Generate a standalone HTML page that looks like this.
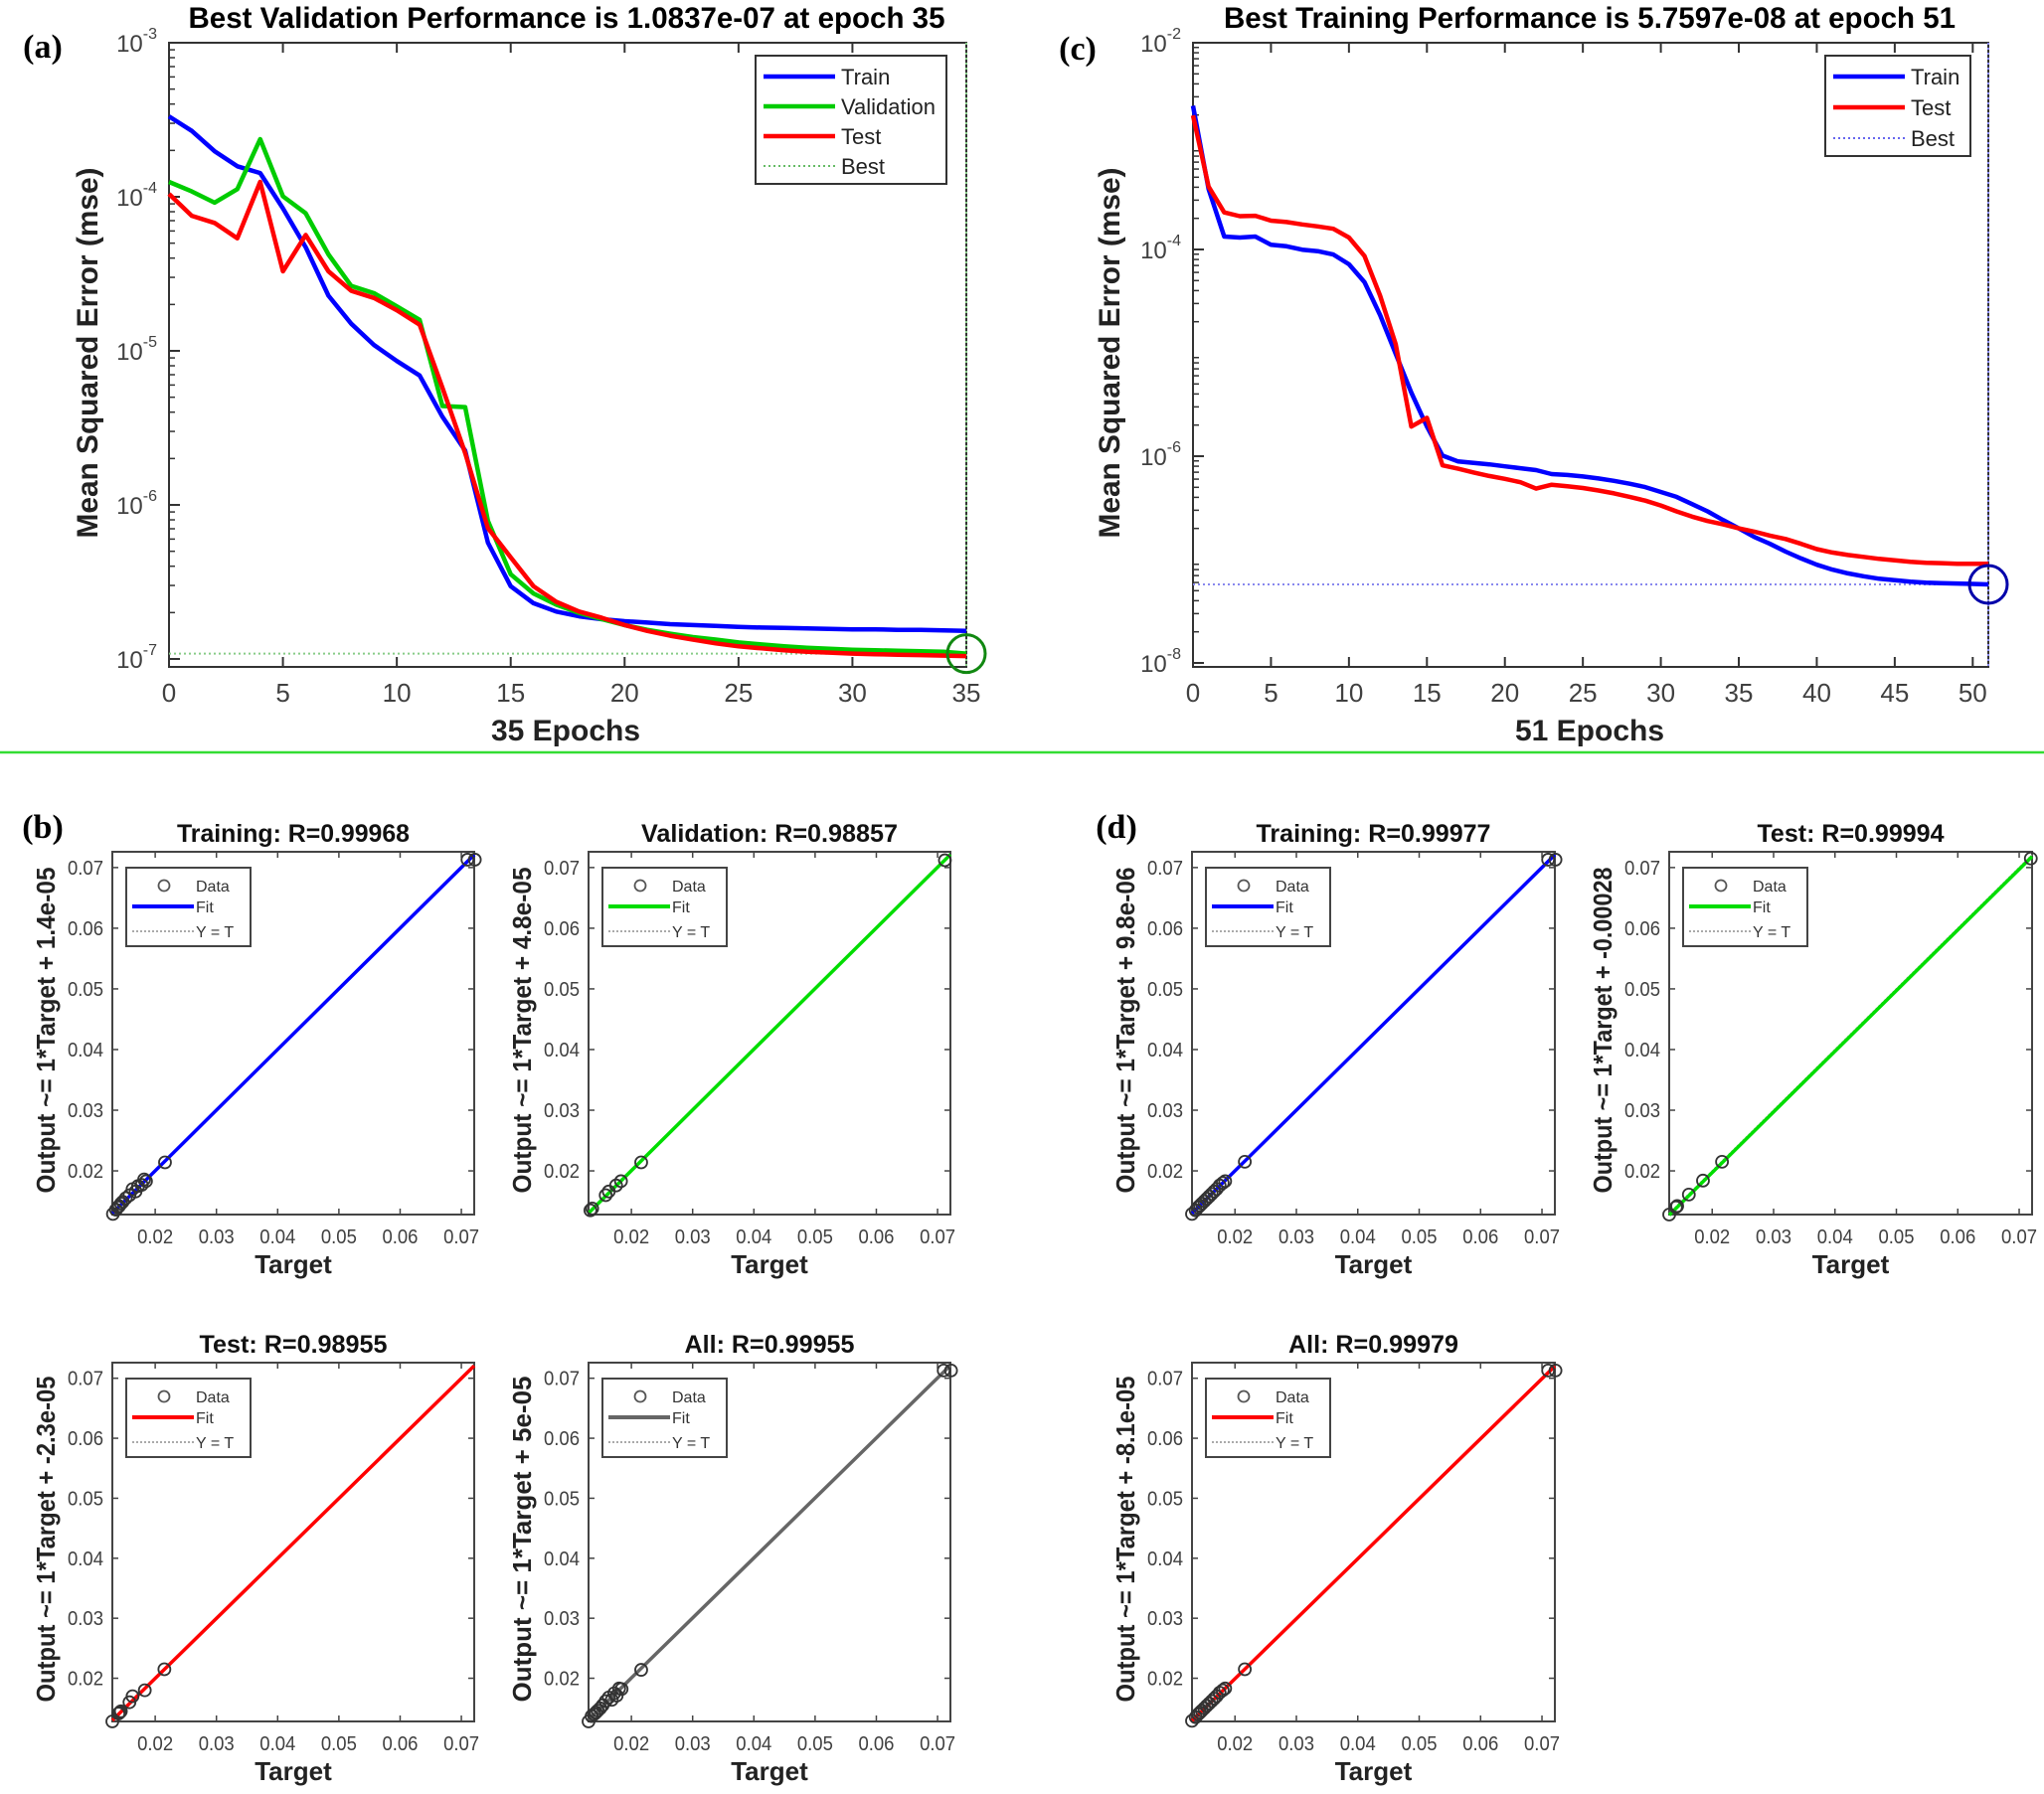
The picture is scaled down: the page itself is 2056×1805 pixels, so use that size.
<!DOCTYPE html>
<html><head><meta charset="utf-8"><style>
html,body{margin:0;padding:0;background:#fff;}
svg{display:block;font-family:"Liberation Sans",Arial,sans-serif;}
</style></head><body>
<svg id="fig" width="2056" height="1805" viewBox="0 0 2056 1805" xmlns="http://www.w3.org/2000/svg"></svg>
<script>
// ---------- Panel (a) data: log10(MSE) per epoch ----------
const aEpochs = 35;
const aTrainLog = [-3.478,-3.572,-3.704,-3.802,-3.846,-4.075,-4.327,-4.642,-4.824,-4.962,-5.066,-5.16,-5.428,-5.648,-6.245,-6.528,-6.638,-6.692,-6.723,-6.742,-6.755,-6.764,-6.774,-6.78,-6.786,-6.792,-6.796,-6.799,-6.802,-6.805,-6.808,-6.808,-6.811,-6.811,-6.814,-6.818];
const aValLog = [-3.903,-3.965,-4.038,-3.95,-3.626,-3.997,-4.107,-4.374,-4.579,-4.626,-4.711,-4.799,-5.358,-5.365,-6.104,-6.45,-6.575,-6.648,-6.701,-6.742,-6.78,-6.811,-6.836,-6.858,-6.874,-6.893,-6.906,-6.918,-6.928,-6.934,-6.94,-6.943,-6.947,-6.95,-6.953,-6.965];
const aTestLog = [-3.981,-4.123,-4.17,-4.27,-3.903,-4.484,-4.248,-4.484,-4.61,-4.657,-4.736,-4.83,-5.239,-5.664,-6.151,-6.34,-6.528,-6.629,-6.692,-6.733,-6.78,-6.818,-6.849,-6.874,-6.899,-6.918,-6.931,-6.943,-6.953,-6.959,-6.965,-6.969,-6.972,-6.975,-6.978,-6.981];
const aBestEpoch = 35;
const aBestLog = -6.965;
const aXTicks = [0,5,10,15,20,25,30,35];
const aYTickExp = [-3,-4,-5,-6,-7];
// ---------- Panel (c) data ----------
const cEpochs = 51;
const cTrainLog = [-2.61,-3.416,-3.875,-3.885,-3.875,-3.955,-3.969,-4.002,-4.016,-4.049,-4.143,-4.316,-4.635,-5.01,-5.385,-5.713,-5.994,-6.051,-6.065,-6.079,-6.098,-6.116,-6.135,-6.173,-6.182,-6.196,-6.215,-6.238,-6.266,-6.299,-6.346,-6.393,-6.463,-6.534,-6.618,-6.698,-6.782,-6.848,-6.923,-6.989,-7.05,-7.097,-7.134,-7.162,-7.186,-7.2,-7.213,-7.223,-7.228,-7.232,-7.236,-7.24];
const cTestLog = [-2.703,-3.392,-3.641,-3.678,-3.674,-3.721,-3.735,-3.758,-3.777,-3.8,-3.885,-4.063,-4.447,-4.916,-5.713,-5.629,-6.088,-6.121,-6.158,-6.191,-6.219,-6.252,-6.313,-6.276,-6.29,-6.308,-6.332,-6.36,-6.393,-6.43,-6.477,-6.534,-6.585,-6.627,-6.66,-6.698,-6.73,-6.768,-6.801,-6.848,-6.899,-6.932,-6.956,-6.974,-6.993,-7.007,-7.021,-7.031,-7.035,-7.04,-7.04,-7.04];
const cBestEpoch = 51;
const cBestLog = -7.24;
const cXTicks = [0,5,10,15,20,25,30,35,40,45,50];
const cYTickExp = [-2,-4,-6,-8];
// ---------- Regression data ----------
const regTicks = [0.02,0.03,0.04,0.05,0.06,0.07];
const tgtTrainB = [0.0131,0.0136,0.0139,0.0141,0.0144,0.0147,0.0152,0.0158,0.0163,0.0168,0.0172,0.0178,0.0182,0.0185,0.0216,0.0710,0.0722];
const outTrainB = [0.0129,0.0136,0.0140,0.0142,0.0146,0.0149,0.0155,0.0160,0.0170,0.0166,0.0175,0.0177,0.0186,0.0183,0.0214,0.0713,0.0713];
const tgtValB = [0.0133,0.0136,0.0158,0.0163,0.0175,0.0183,0.0216,0.0712];
const outValB = [0.0135,0.0138,0.0160,0.0166,0.0176,0.0183,0.0214,0.0712];
const tgtTestB = [0.0130,0.0140,0.0142,0.0144,0.0158,0.0163,0.0183,0.0215];
const outTestB = [0.0128,0.0141,0.0143,0.0145,0.0160,0.0170,0.0180,0.0215];
const tgtAllB = [0.0130,0.0135,0.0139,0.0142,0.0145,0.0149,0.0153,0.0158,0.0163,0.0168,0.0172,0.0176,0.0180,0.0184,0.0216,0.0710,0.0722];
const outAllB = [0.0128,0.0137,0.0140,0.0143,0.0146,0.0150,0.0155,0.0162,0.0168,0.0164,0.0175,0.0171,0.0183,0.0182,0.0214,0.0713,0.0713];
const tgtTrainD = [0.0130,0.0136,0.0140,0.0143,0.0146,0.0150,0.0154,0.0158,0.0162,0.0166,0.0170,0.0175,0.0180,0.0184,0.0216,0.0710,0.0722];
const outTrainD = [0.0129,0.0135,0.0140,0.0143,0.0146,0.0150,0.0154,0.0158,0.0162,0.0166,0.0170,0.0176,0.0180,0.0183,0.0215,0.0713,0.0713];
const tgtTestD = [0.0130,0.0141,0.0143,0.0162,0.0185,0.0216,0.0719];
const outTestD = [0.0128,0.0140,0.0142,0.0161,0.0184,0.0215,0.0715];
const tgtAllD = tgtTrainD;
const outAllD = outTrainD;

const NS = "http://www.w3.org/2000/svg";
const svg = document.getElementById('fig');
function mk(tag, attrs, parent) {
  const e = document.createElementNS(NS, tag);
  for (const k in attrs) e.setAttribute(k, attrs[k]);
  (parent || svg).appendChild(e);
  return e;
}
const TICKC = "#404040";

function panelLabel(txt, x, y) {
  const t = mk('text', {x: x, y: y, 'font-family': '"Liberation Serif",serif', 'font-weight': 'bold', 'font-size': 34, 'text-anchor': 'middle', fill: '#000'});
  
  
  t.textContent = txt;
}

function perfChart(o) {
  const g = mk('g', {});
  
  
  const xS = e => o.L + e * (o.R - o.L) / o.epochs;
  const yS = lg => o.T0 + (o.topExp - lg) * o.dec;
  const box = mk('rect', {x: o.L, y: o.T, width: o.R - o.L, height: o.B - o.T, fill: 'none', stroke: '#333', 'stroke-width': 2}, g);
  
  
  o.xticks.forEach(v => {
    const x = xS(v);
    mk('line', {x1: x, y1: o.B, x2: x, y2: o.B - 10, stroke: '#333', 'stroke-width': 2}, g);
    mk('line', {x1: x, y1: o.T, x2: x, y2: o.T + 10, stroke: '#333', 'stroke-width': 2}, g);
    const t = mk('text', {x: x, y: o.B + 35, 'font-size': 26, 'text-anchor': 'middle', fill: TICKC}, g);
    
    
    t.textContent = v;
  });
  for (let ex = o.topExp; ex > o.topExp - o.nDec; ex--) {
    for (let k = 2; k <= 9; k++) {
      const y = yS(ex - 1 + Math.log10(k));
      if (y > o.B) continue;
      mk('line', {x1: o.L, y1: y, x2: o.L + 6, y2: y, stroke: '#333', 'stroke-width': 1.5}, g);
    }
  }
  o.yticks.forEach(ex => {
    const y = yS(ex);
    mk('line', {x1: o.L, y1: y, x2: o.L + 11, y2: y, stroke: '#333', 'stroke-width': 2}, g);
    const t = mk('text', {x: o.L - 12, y: y + 9, 'font-size': 24, 'text-anchor': 'end', fill: TICKC}, g);
    
    
    const a = mk('tspan', {}, t); a.textContent = '10';
    const b = mk('tspan', {dy: -13, 'font-size': 16}, t); b.textContent = String(ex);
  });
  const bx = xS(o.bestEpoch), by = yS(o.bestLog);
  const hl = mk('line', {x1: o.L, y1: by, x2: bx, y2: by, stroke: o.bestColor, 'stroke-width': 2, 'stroke-dasharray': '2,3'}, g);
  
  
  const vl = mk('line', {x1: bx, y1: o.T, x2: bx, y2: o.B, stroke: o.bestColor, 'stroke-width': 2, 'stroke-dasharray': '2,3'}, g);
  
  
  o.series.forEach(s => {
    const d = s.data.map((v, i) => (i ? 'L' : 'M') + xS(i).toFixed(1) + ',' + yS(v).toFixed(1)).join(' ');
    const p = mk('path', {d: d, fill: 'none', stroke: s.color, 'stroke-width': 4.5, 'stroke-linejoin': 'round'}, g);
    
    
  });
  const c = mk('ellipse', {cx: bx, cy: by, rx: 19, ry: 19, fill: 'none', stroke: o.circleColor, 'stroke-width': 3}, g);
  
  
  const lg = mk('g', {}, g);
  
  
  mk('rect', {x: o.lgX, y: o.lgY, width: o.lgW, height: o.lgH, fill: '#fff', stroke: '#333', 'stroke-width': 2}, lg);
  o.legend.forEach((en, i) => {
    const y = o.lgY + 21 + i * o.lgStep;
    const ln = mk('line', {x1: o.lgX + 8, y1: y, x2: o.lgX + 80, y2: y, stroke: en.color, 'stroke-width': en.dot ? 2 : 4.5, 'stroke-dasharray': en.dot ? '2,3' : 'none'}, lg);
    
    
    const t = mk('text', {x: o.lgX + 86, y: y + 8, 'font-size': 22, fill: '#222'}, lg);
    
    
    t.textContent = en.label;
  });
  const tt = mk('text', {x: o.titleX, y: 28, 'font-size': 30, 'font-weight': 'bold', 'text-anchor': 'middle', textLength: o.titleW, lengthAdjust: 'spacingAndGlyphs', fill: '#000'}, g);
  
  
  tt.textContent = o.title;
  const xl = mk('text', {x: o.xlabX, y: 745, 'font-size': 30, 'font-weight': 'bold', 'text-anchor': 'middle', fill: '#222'}, g);
  
  
  xl.textContent = o.xlabel;
  const yl = mk('text', {x: 0, y: 0, 'font-size': 30, 'font-weight': 'bold', 'text-anchor': 'middle', textLength: 373, lengthAdjust: 'spacingAndGlyphs', fill: '#222', transform: 'translate(' + (o.ylabX) + ',355) rotate(-90)'}, g);
  
  
  yl.textContent = 'Mean Squared Error  (mse)';
}

perfChart({name: 'validation-performance-chart', L: 170, R: 972, T: 43, B: 671, T0: 43, topExp: -3, dec: 155, nDec: 4, epochs: aEpochs,
  xticks: aXTicks, yticks: aYTickExp, bestEpoch: aBestEpoch, bestLog: aBestLog, bestColor: '#88cc88', circleColor: '#118811',
  series: [{name: 'train-line', data: aTrainLog, color: '#0000ff'}, {name: 'validation-line', data: aValLog, color: '#00cc00'}, {name: 'test-line', data: aTestLog, color: '#ff0000'}],
  legend: [{label: 'Train', color: '#0000ff'}, {label: 'Validation', color: '#00cc00'}, {label: 'Test', color: '#ff0000'}, {label: 'Best', color: '#66bb66', dot: true}],
  lgX: 760, lgY: 56, lgW: 192, lgH: 129, lgStep: 30,
  title: 'Best Validation Performance is 1.0837e-07 at epoch 35', titleX: 570, titleW: 761, xlabel: '35 Epochs', xlabX: 569, ylabX: 98});

perfChart({name: 'training-performance-chart', L: 1200, R: 2000, T: 43, B: 671, T0: 43, topExp: -2, dec: 104, nDec: 6, epochs: cEpochs,
  xticks: cXTicks, yticks: cYTickExp, bestEpoch: cBestEpoch, bestLog: cBestLog, bestColor: '#8888ee', circleColor: '#0000aa',
  series: [{name: 'train-line', data: cTrainLog, color: '#0000ff'}, {name: 'test-line', data: cTestLog, color: '#ff0000'}],
  legend: [{label: 'Train', color: '#0000ff'}, {label: 'Test', color: '#ff0000'}, {label: 'Best', color: '#6666ee', dot: true}],
  lgX: 1836, lgY: 56, lgW: 146, lgH: 101, lgStep: 31,
  title: 'Best Training Performance is 5.7597e-08 at epoch 51', titleX: 1599, titleW: 736, xlabel: '51 Epochs', xlabX: 1599, ylabX: 1126});

const sep = mk('line', {x1: 0, y1: 757, x2: 2056, y2: 757, stroke: '#33dd33', 'stroke-width': 2.5});



function regChart(o) {
  const g = mk('g', {});
  
  
  const xmin = 0.0130, xmax = 0.0721, ymin = 0.0128, ymax = 0.0726;
  const xS = v => o.L + (v - xmin) / (xmax - xmin) * (o.R - o.L);
  const yS = v => o.B - (v - ymin) / (ymax - ymin) * (o.B - o.T);
  const box = mk('rect', {x: o.L, y: o.T, width: o.R - o.L, height: o.B - o.T, fill: 'none', stroke: '#444', 'stroke-width': 2}, g);
  
  
  regTicks.forEach(v => {
    const x = xS(v), y = yS(v);
    mk('line', {x1: x, y1: o.B, x2: x, y2: o.B - 6, stroke: '#444', 'stroke-width': 1.5}, g);
    mk('line', {x1: x, y1: o.T, x2: x, y2: o.T + 6, stroke: '#444', 'stroke-width': 1.5}, g);
    mk('line', {x1: o.L, y1: y, x2: o.L + 6, y2: y, stroke: '#444', 'stroke-width': 1.5}, g);
    mk('line', {x1: o.R, y1: y, x2: o.R - 6, y2: y, stroke: '#444', 'stroke-width': 1.5}, g);
    const tx = mk('text', {x: x, y: o.B + 29, 'font-size': 20, 'text-anchor': 'middle', fill: TICKC, textLength: 36, lengthAdjust: 'spacingAndGlyphs'}, g);
    
    
    tx.textContent = v.toFixed(2);
    const ty = mk('text', {x: o.L - 9, y: y + 7, 'font-size': 20, 'text-anchor': 'end', fill: TICKC, textLength: 36, lengthAdjust: 'spacingAndGlyphs'}, g);
    
    
    ty.textContent = v.toFixed(2);
  });
  const lo = Math.max(xmin, ymin), hi = Math.min(xmax, ymax);
  const yt = mk('line', {x1: xS(lo), y1: yS(lo), x2: xS(hi), y2: yS(hi), stroke: '#999', 'stroke-width': 1.5, 'stroke-dasharray': '2,2'}, g);
  
  
  const f0 = xmin, f1 = Math.min(xmax, ymax - o.offset);
  const fl = mk('line', {x1: xS(f0), y1: yS(f0 + o.offset), x2: xS(f1), y2: yS(f1 + o.offset), stroke: o.color, 'stroke-width': 3.5}, g);
  
  
  o.tgt.forEach((t, i) => {
    const c = mk('circle', {cx: xS(t), cy: yS(o.out[i]), r: 6, fill: 'none', stroke: '#333', 'stroke-width': 1.8}, g);
    
    
  });
  const lx = o.L + 14, ly = o.T + 16;
  const lg = mk('g', {}, g);
  
  
  mk('rect', {x: lx, y: ly, width: 125, height: 79, fill: '#fff', stroke: '#444', 'stroke-width': 2}, lg);
  const lc = mk('circle', {cx: lx + 38, cy: ly + 18, r: 5.5, fill: 'none', stroke: '#555', 'stroke-width': 1.8}, lg);
  
  
  const lf = mk('line', {x1: lx + 6, y1: ly + 39, x2: lx + 68, y2: ly + 39, stroke: o.color, 'stroke-width': 4}, lg);
  
  
  const ld = mk('line', {x1: lx + 6, y1: ly + 64, x2: lx + 68, y2: ly + 64, stroke: '#aaa', 'stroke-width': 2, 'stroke-dasharray': '2,2'}, lg);
  
  
  [['Data', 24], ['Fit', 45], ['Y = T', 70]].forEach(a => {
    const t = mk('text', {x: lx + 70, y: ly + a[1], 'font-size': 16, fill: '#333'}, lg);
    
    
    t.textContent = a[0];
  });
  const cx = (o.L + o.R) / 2;
  const tt = mk('text', {x: cx, y: o.T - 10, 'font-size': 25, 'font-weight': 'bold', 'text-anchor': 'middle', textLength: o.titleW, lengthAdjust: 'spacingAndGlyphs', fill: '#111'}, g);
  
  
  tt.textContent = o.title;
  const xl = mk('text', {x: cx, y: o.B + 59, 'font-size': 26, 'font-weight': 'bold', 'text-anchor': 'middle', fill: '#222'}, g);
  
  
  xl.textContent = 'Target';
  const yl = mk('text', {x: 0, y: 0, 'font-size': 26, 'font-weight': 'bold', 'text-anchor': 'middle', textLength: 328, lengthAdjust: 'spacingAndGlyphs', fill: '#222', transform: 'translate(' + (o.L - 58) + ',' + ((o.T + o.B) / 2 - 3) + ') rotate(-90)'}, g);
  
  
  yl.textContent = o.ylabel;
}

const R1T = 857, R1B = 1222, R2T = 1371, R2B = 1732;
regChart({name: 'b-training-regression', L: 113, R: 477, T: R1T, B: R1B, color: '#0000ff', offset: 1.4e-5, tgt: tgtTrainB, out: outTrainB, title: 'Training: R=0.99968', titleW: 234, ylabel: 'Output ~= 1*Target + 1.4e-05'});
regChart({name: 'b-validation-regression', L: 592, R: 956, T: R1T, B: R1B, color: '#00dd00', offset: 4.8e-5, tgt: tgtValB, out: outValB, title: 'Validation: R=0.98857', titleW: 258, ylabel: 'Output ~= 1*Target + 4.8e-05'});
regChart({name: 'b-test-regression', L: 113, R: 477, T: R2T, B: R2B, color: '#ff0000', offset: -2.3e-5, tgt: tgtTestB, out: outTestB, title: 'Test: R=0.98955', titleW: 189, ylabel: 'Output ~= 1*Target + -2.3e-05'});
regChart({name: 'b-all-regression', L: 592, R: 956, T: R2T, B: R2B, color: '#666666', offset: 5e-5, tgt: tgtAllB, out: outAllB, title: 'All: R=0.99955', titleW: 171, ylabel: 'Output ~= 1*Target + 5e-05'});
regChart({name: 'd-training-regression', L: 1199, R: 1564, T: R1T, B: R1B, color: '#0000ff', offset: 9.8e-6, tgt: tgtTrainD, out: outTrainD, title: 'Training: R=0.99977', titleW: 236, ylabel: 'Output ~= 1*Target + 9.8e-06'});
regChart({name: 'd-test-regression', L: 1679, R: 2044, T: R1T, B: R1B, color: '#00dd00', offset: -0.00028, tgt: tgtTestD, out: outTestD, title: 'Test: R=0.99994', titleW: 188, ylabel: 'Output ~= 1*Target + -0.00028'});
regChart({name: 'd-all-regression', L: 1199, R: 1564, T: R2T, B: R2B, color: '#ff0000', offset: -8.1e-5, tgt: tgtAllD, out: outAllD, title: 'All: R=0.99979', titleW: 171, ylabel: 'Output ~= 1*Target + -8.1e-05'});

panelLabel('(a)', 43, 58);
panelLabel('(c)', 1084, 60);
panelLabel('(b)', 43, 843);
panelLabel('(d)', 1123, 843);
</script>
</body></html>
